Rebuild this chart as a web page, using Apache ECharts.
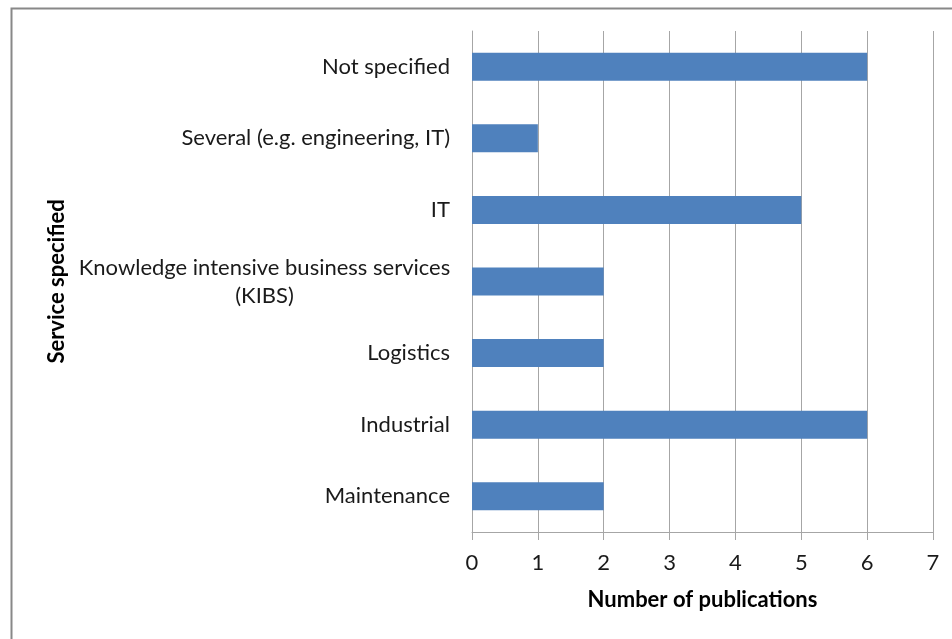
<!DOCTYPE html>
<html>
<head>
<meta charset="utf-8">
<script src="https://cdn.jsdelivr.net/npm/echarts@6/dist/echarts.min.js"></script>
<style>
  html, body { margin: 0; padding: 0; background: #fff; }
  #chart { width: 952px; height: 639px; }
</style>
</head>
<body>
<div id="chart"></div>
<script>
// categories top to bottom
const categories = [
  'Not specified',
  'Several (e.g. engineering, IT)',
  'IT',
  'Knowledge intensive business services\n(KIBS)',
  'Logistics',
  'Industrial',
  'Maintenance'
]
const publications = [6, 1, 5, 2, 2, 6, 2]
const xTicks = [0, 1, 2, 3, 4, 5, 6, 7]

const font = 'Lato, "Open Sans", sans-serif'
const chart = echarts.init(document.getElementById('chart'))

chart.setOption({
  animation: false,
  graphic: [{
    type: 'rect',
    left: 9,
    top: 6,
    shape: { width: 1000, height: 700 },
    style: { fill: 'none', stroke: '#888', lineWidth: 2 }
  }],
  grid: {
    left: 472,
    right: 19,
    top: 31,
    bottom: 107
  },
  xAxis: {
    type: 'value',
    min: xTicks[0],
    max: xTicks[xTicks.length - 1],
    interval: 1,
    name: 'Number of publications',
    nameLocation: 'middle',
    nameGap: 57,
    nameTextStyle: { fontFamily: font, fontSize: 22, fontWeight: 'bold', color: '#000' },
    axisLine: { show: true, lineStyle: { color: '#a6a6a6', width: 1 } },
    axisTick: { show: true, length: 8, lineStyle: { color: '#a6a6a6' } },
    axisLabel: { fontFamily: font, fontSize: 22, color: '#1a1a1a', margin: 20 },
    splitLine: { show: true, lineStyle: { color: '#a6a6a6', width: 1 } }
  },
  yAxis: {
    type: 'category',
    data: categories,
    inverse: true,
    name: 'Service specified',
    nameLocation: 'middle',
    nameGap: 404,
    nameTextStyle: { fontFamily: font, fontSize: 22, fontWeight: 'bold', color: '#000' },
    axisLine: { show: true, lineStyle: { color: '#a6a6a6', width: 1 } },
    axisTick: { show: false },
    axisLabel: {
      fontFamily: font,
      fontSize: 22,
      color: '#1a1a1a',
      margin: 22,
      lineHeight: 28,
      formatter: function (value) {
        if (value.indexOf('\n') >= 0) {
          // two-line label, lines centred on each other
          return value.split('\n').map(s => '{c|' + s + '}').join('\n')
        }
        return value
      },
      rich: {
        c: { fontFamily: font, fontSize: 22, color: '#1a1a1a', width: 371, align: 'center', lineHeight: 28 }
      }
    },
    splitLine: { show: false }
  },
  series: [{
    name: 'Number of publications',
    type: 'bar',
    data: publications,
    barWidth: 28,
    itemStyle: { color: '#4f81bd' }
  }]
})
</script>
</body>
</html>
